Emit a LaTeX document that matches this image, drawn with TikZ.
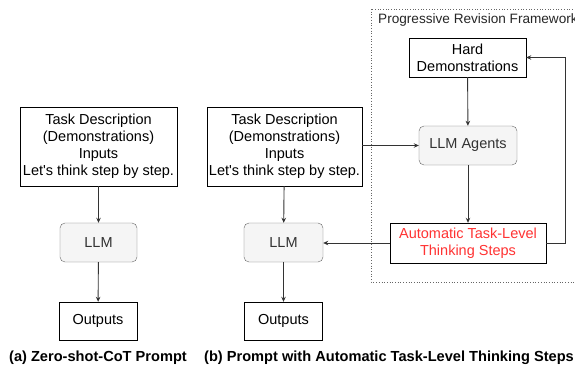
\documentclass[tikz,border=0pt]{standalone}
\usepackage{fontspec}
\setmainfont{Liberation Sans}
\usetikzlibrary{positioning,arrows.meta}
\definecolor{llmFill}{RGB}{245,245,245}
\definecolor{llmLine}{RGB}{102,102,102}
\definecolor{stepRed}{RGB}{255,51,51}
\definecolor{wireGray}{RGB}{51,51,51}

\tikzset{
  plainbox/.style={draw=black, fill=white, inner sep=0pt, align=center,
    font=\fontsize{14.5}{17}\selectfont},
  llmbox/.style={draw=llmLine, fill=llmFill, rounded corners=5pt, inner sep=0pt,
    align=center, text=black!80, font=\fontsize{14.5}{17}\selectfont},
  flow/.style={draw=wireGray, line width=0.9pt, -{Stealth[length=5pt,width=4.5pt]}},
  caption/.style={font=\fontsize{14.6}{17}\selectfont\bfseries}
}

\begin{document}
\begin{tikzpicture}[x=1pt, y=-1pt]
        \useasboundingbox (0,0) rectangle (575,367);
        % Framework frame (runs off the right edge)
        \draw[llmLine, dotted, line width=0.7pt] (371,9) rectangle (620,282);
        \node[anchor=west, text=black!85, font=\fontsize{13.6}{16}\selectfont, inner sep=0pt] (frameLabel) at (378,20) {Progressive Revision Framework};

        % (a) Zero-shot-CoT column
        \node[plainbox, minimum width=157pt, minimum height=79pt] (taskA) at (98.5,146.5)
          {Task Description\\(Demonstrations)\\Inputs\\Let\textquotesingle s think step by step.};
        \node[llmbox, minimum width=77pt, minimum height=39pt] (llmA) at (98.5,242.5) {LLM};
        \node[plainbox, minimum width=78pt, minimum height=38pt] (outA) at (98,321) {Outputs};
        \draw[flow] (taskA) -- (llmA);
        \draw[flow] (llmA) -- (outA);

        % (b) column with generated thinking steps
        \node[plainbox, minimum width=155pt, minimum height=79pt] (taskB) at (284.5,146.5)
          {Task Description\\(Demonstrations)\\Inputs\\Let\textquotesingle s think step by step.};
        \node[llmbox, minimum width=79pt, minimum height=39pt] (llmB) at (283.5,242.5) {LLM};
        \node[plainbox, minimum width=78pt, minimum height=38pt] (outB) at (283.5,321) {Outputs};
        \draw[flow] (taskB) -- (llmB);
        \draw[flow] (llmB) -- (outB);

        % Revision loop
        \node[plainbox, minimum width=117pt, minimum height=39pt] (hard) at (467.5,57.5)
          {Hard\\Demonstrations};
        \node[llmbox, minimum width=98pt, minimum height=39pt] (agents) at (468,145.5) {LLM Agents};
        \node[plainbox, text=stepRed, minimum width=156pt, minimum height=40pt] (auto) at (468,243)
          {Automatic Task-Level\\Thinking Steps};
        \coordinate (loopCorner) at (565,243);
        \draw[flow] (hard) -- (agents);
        \draw[flow] (agents) -- (auto);
        \draw[flow] (taskB.east |- agents.west) -- (agents.west);
        \draw[flow] (auto.west) -- (llmB.east |- auto.west);
        \draw[flow] (auto.east) -- (loopCorner) |- (hard.east);

        % Captions
        \node[caption] (capA) at (98,358) {(a) Zero-shot-CoT Prompt};
        \node[caption] (capB) at (389,358) {(b) Prompt with Automatic Task-Level Thinking Steps};
\end{tikzpicture}
\end{document}
